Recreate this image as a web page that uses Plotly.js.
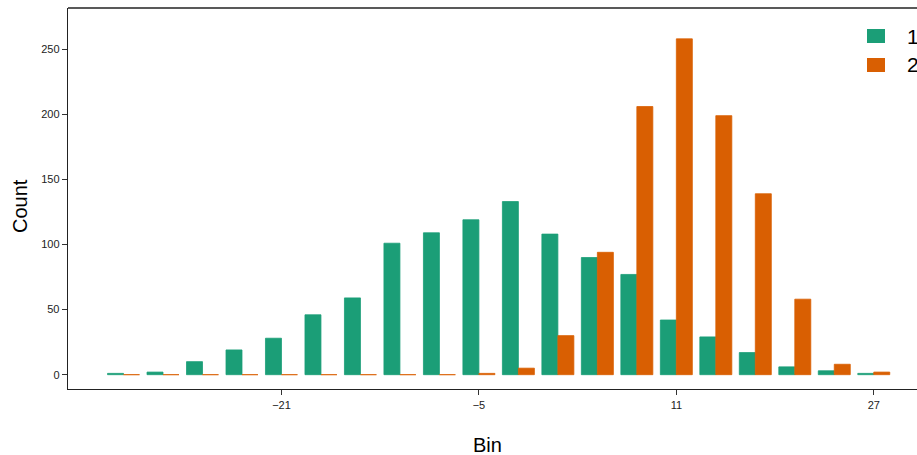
<!DOCTYPE html>
<html>
<head>
<meta charset="utf-8">
<script src="https://cdn.plot.ly/plotly-3.0.1.min.js"></script>
<style>
  html, body { margin: 0; padding: 0; overflow: hidden; background: #fff; }
  #chart { width: 940px; height: 455px; }
</style>
</head>
<body>
<div id="chart"></div>
<script>
// Bin centres (step 3.2), tick labels, and counts for the two groups
const bins = [-33.8, -30.6, -27.4, -24.2, -21.0, -17.8, -14.6, -11.4, -8.2, -5.0,
              -1.8, 1.4, 4.6, 7.8, 11.0, 14.2, 17.4, 20.6, 23.8, 27.0];
const tickValues = [-21, -5, 11, 27];
const tickLabels = ["\u221221", "\u22125", "11", "27"];
const seriesNames = ["1", "2"];
const counts1 = [1, 2, 10, 19, 28, 46, 59, 101, 109, 119, 133, 108, 90, 77, 42, 29, 17, 6, 3, 1];
const counts2 = [0, 0, 0, 0, 0, 0, 0, 0, 0, 1, 5, 30, 94, 206, 258, 199, 139, 58, 8, 2];
const colors = ["#1B9E77", "#D95F02"];
const xTitle = "Bin";
const yTitle = "Count";

const L = 68, T = 8, PW = 865, PH = 381;
const px = (x) => (x - L) / PW;
const py = (y) => (T + PH - y) / PH;

const traces = [counts1, counts2].map((c, i) => ({
  type: "bar",
  x: bins,
  y: c,
  name: seriesNames[i],
  marker: { color: colors[i], line: { color: colors[i], width: 0.8 } },
  showlegend: false,
  hoverinfo: "x+y"
}));

const font = "Liberation Sans, Arial, sans-serif";
const legShapes = [];
const anns = [];
seriesNames.forEach((n, i) => {
  legShapes.push({
    type: "rect", xref: "paper", yref: "paper",
    x0: px(867), x1: px(885),
    y0: py(43 + i * 29), y1: py(29 + i * 29),
    fillcolor: colors[i], line: { width: 0 }
  });
  anns.push({
    xref: "paper", yref: "paper",
    x: px(905), y: py(36 + i * 29),
    xanchor: "left", yanchor: "middle", showarrow: false,
    text: n, font: { family: font, size: 21, color: "#000" }
  });
});
anns.push({
  xref: "paper", yref: "paper", x: px(487), y: py(445),
  xanchor: "center", yanchor: "middle", showarrow: false,
  text: xTitle, font: { family: font, size: 20, color: "#000" }
});
anns.push({
  xref: "paper", yref: "paper", x: px(20), y: py(206),
  xanchor: "center", yanchor: "middle", showarrow: false, textangle: -90,
  text: yTitle, font: { family: font, size: 20, color: "#000" }
});

const layout = {
  width: 940, height: 455,
  margin: { l: L, r: 940 - L - PW, t: T, b: 455 - T - PH },
  paper_bgcolor: "#fff", plot_bgcolor: "#fff",
  barmode: "group", bargap: 0.19, bargroupgap: 0,
  font: { family: font, color: "#000" },
  xaxis: {
    range: [-38.3, 31.8],
    tickvals: tickValues, ticktext: tickLabels,
    ticks: "outside", ticklen: 5, tickwidth: 1, tickcolor: "#333",
    tickfont: { size: 11, color: "#222" },
    showgrid: false, zeroline: false,
    showline: true, linecolor: "#222", linewidth: 1.3, mirror: false
  },
  yaxis: {
    range: [-11, 281.7],
    tickvals: [0, 50, 100, 150, 200, 250],
    ticks: "outside", ticklen: 5, tickwidth: 1, tickcolor: "#333",
    tickfont: { size: 11, color: "#222" },
    showgrid: false, zeroline: false,
    showline: true, linecolor: "#222", linewidth: 1.3
  },
  shapes: [
    { type: "line", xref: "paper", yref: "paper", x0: 0, x1: 1, y0: 1, y1: 1,
      line: { color: "#222", width: 1.3 } },
    ...legShapes
  ],
  annotations: anns
};

Plotly.newPlot("chart", traces, layout, { displayModeBar: false, staticPlot: true });
</script>
</body>
</html>
